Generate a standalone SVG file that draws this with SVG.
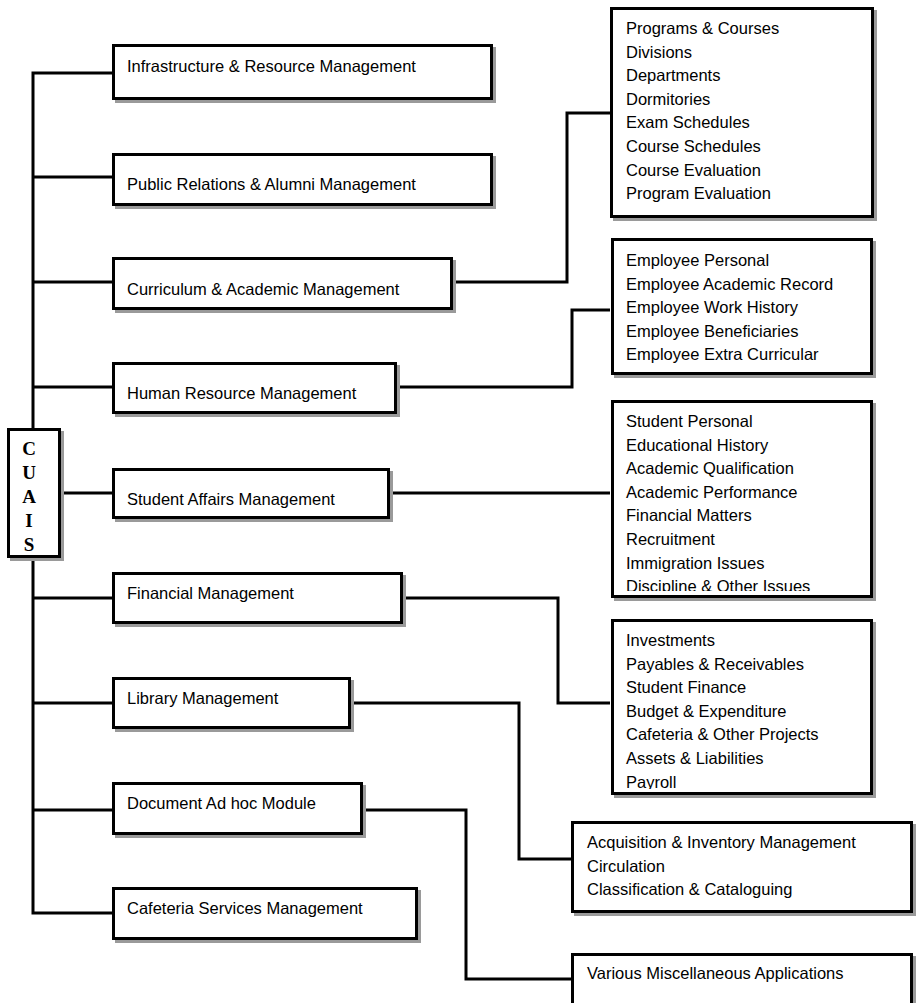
<svg xmlns="http://www.w3.org/2000/svg" width="916" height="1003" viewBox="0 0 916 1003">
<style>
.sh{fill:#9a9a9a;stroke:#9a9a9a;stroke-width:3}
.bx{fill:#fff;stroke:#000;stroke-width:3}
.c{fill:none;stroke:#000;stroke-width:3;stroke-linejoin:miter}
.t{font-family:'Liberation Sans',Arial,Helvetica,sans-serif;font-size:16.5px;fill:#000}
.h{font-family:'Liberation Serif','Times New Roman',serif;font-size:19px;font-weight:bold;fill:#000;text-anchor:middle}
</style>
<defs>
<clipPath id="clipStu"><rect x="612" y="401" width="260" height="190"/></clipPath>
<clipPath id="clipInv"><rect x="612" y="620" width="260" height="169"/></clipPath>
</defs>
<rect x="0" y="0" width="916" height="1003" fill="#fff"/>
<g id="connectors">
<path class="c" d="M112,73 H33 V913 H112"/>
<path class="c" d="M33,177 H112 M33,282 H112 M33,387 H112 M61,493 H112 M33,598 H112 M33,703 H112 M33,810 H112"/>
<path class="c" d="M453,282 H567 V113 H610"/>
<path class="c" d="M397,387 H572 V310 H610"/>
<path class="c" d="M390,493 H610"/>
<path class="c" d="M402,598 H558 V703 H610"/>
<path class="c" d="M350,703 H519 V859 H571"/>
<path class="c" d="M362,810 H466 V979 H571"/>
</g>
<g id="cuais">
<rect class="sh" x="11.5" y="432.5" width="51" height="127"/>
<rect class="bx" x="8.5" y="429.5" width="51" height="127"/>
<text class="h" x="29" y="455">C</text>
<text class="h" x="29" y="479">U</text>
<text class="h" x="29" y="503">A</text>
<text class="h" x="29" y="527">I</text>
<text class="h" x="29" y="551">S</text>
</g>
<g id="infra">
<rect class="sh" x="116.5" y="48.5" width="378" height="53"/>
<rect class="bx" x="113.5" y="45.5" width="378" height="53"/>
<text class="t" x="127" y="72">Infrastructure &amp; Resource Management</text>
</g>
<g id="public">
<rect class="sh" x="116.5" y="157.5" width="378" height="50"/>
<rect class="bx" x="113.5" y="154.5" width="378" height="50"/>
<text class="t" x="127" y="190">Public Relations &amp; Alumni Management</text>
</g>
<g id="curriculum">
<rect class="sh" x="116.5" y="261.5" width="338" height="50"/>
<rect class="bx" x="113.5" y="258.5" width="338" height="50"/>
<text class="t" x="127" y="295">Curriculum &amp; Academic Management</text>
</g>
<g id="hr">
<rect class="sh" x="116.5" y="366.5" width="282" height="49"/>
<rect class="bx" x="113.5" y="363.5" width="282" height="49"/>
<text class="t" x="127" y="399">Human Resource Management</text>
</g>
<g id="student">
<rect class="sh" x="116.5" y="472.5" width="275" height="48"/>
<rect class="bx" x="113.5" y="469.5" width="275" height="48"/>
<text class="t" x="127" y="505">Student Affairs Management</text>
</g>
<g id="financial">
<rect class="sh" x="116.5" y="576.5" width="288" height="49"/>
<rect class="bx" x="113.5" y="573.5" width="288" height="49"/>
<text class="t" x="127" y="599">Financial Management</text>
</g>
<g id="library">
<rect class="sh" x="116.5" y="681.5" width="236" height="49"/>
<rect class="bx" x="113.5" y="678.5" width="236" height="49"/>
<text class="t" x="127" y="704">Library Management</text>
</g>
<g id="document">
<rect class="sh" x="116.5" y="786.5" width="248" height="50"/>
<rect class="bx" x="113.5" y="783.5" width="248" height="50"/>
<text class="t" x="127" y="809">Document Ad hoc Module</text>
</g>
<g id="cafeteria">
<rect class="sh" x="116.5" y="891.5" width="303" height="50"/>
<rect class="bx" x="113.5" y="888.5" width="303" height="50"/>
<text class="t" x="127" y="914">Cafeteria Services Management</text>
</g>
<g id="curriculum-items">
<rect class="sh" x="614.5" y="11.5" width="261" height="208"/>
<rect class="bx" x="611.5" y="8.5" width="261" height="208"/>
<text class="t" x="626" y="34">Programs &amp; Courses</text>
<text class="t" x="626" y="57.6">Divisions</text>
<text class="t" x="626" y="81.2">Departments</text>
<text class="t" x="626" y="104.8">Dormitories</text>
<text class="t" x="626" y="128.4">Exam Schedules</text>
<text class="t" x="626" y="152">Course Schedules</text>
<text class="t" x="626" y="175.6">Course Evaluation</text>
<text class="t" x="626" y="199.2">Program Evaluation</text>
</g>
<g id="hr-items">
<rect class="sh" x="615.5" y="242.5" width="259" height="134"/>
<rect class="bx" x="612.5" y="239.5" width="259" height="134"/>
<text class="t" x="626" y="266">Employee Personal</text>
<text class="t" x="626" y="289.6">Employee Academic Record</text>
<text class="t" x="626" y="313.2">Employee Work History</text>
<text class="t" x="626" y="336.8">Employee Beneficiaries</text>
<text class="t" x="626" y="360.4">Employee Extra Curricular</text>
</g>
<g id="student-items">
<rect class="sh" x="615.5" y="404.5" width="259" height="195"/>
<rect class="bx" x="612.5" y="401.5" width="259" height="195"/>
<g clip-path="url(#clipStu)">
<text class="t" x="626" y="427">Student Personal</text>
<text class="t" x="626" y="450.6">Educational History</text>
<text class="t" x="626" y="474.2">Academic Qualification</text>
<text class="t" x="626" y="497.8">Academic Performance</text>
<text class="t" x="626" y="521.4">Financial Matters</text>
<text class="t" x="626" y="545">Recruitment</text>
<text class="t" x="626" y="568.6">Immigration Issues</text>
<text class="t" x="626" y="592.2">Discipline &amp; Other Issues</text>
</g>
</g>
<g id="financial-items">
<rect class="sh" x="615.5" y="623.5" width="259" height="173"/>
<rect class="bx" x="612.5" y="620.5" width="259" height="173"/>
<g clip-path="url(#clipInv)">
<text class="t" x="626" y="646">Investments</text>
<text class="t" x="626" y="669.6">Payables &amp; Receivables</text>
<text class="t" x="626" y="693.2">Student Finance</text>
<text class="t" x="626" y="716.8">Budget &amp; Expenditure</text>
<text class="t" x="626" y="740.4">Cafeteria &amp; Other Projects</text>
<text class="t" x="626" y="764">Assets &amp; Liabilities</text>
<text class="t" x="626" y="787.6">Payroll</text>
</g>
</g>
<g id="library-items">
<rect class="sh" x="575.5" y="825.5" width="339" height="89"/>
<rect class="bx" x="572.5" y="822.5" width="339" height="89"/>
<text class="t" x="587" y="848">Acquisition &amp; Inventory Management</text>
<text class="t" x="587" y="871.6">Circulation</text>
<text class="t" x="587" y="895.2">Classification &amp; Cataloguing</text>
</g>
<g id="document-items">
<rect class="sh" x="575.5" y="957.5" width="339" height="60"/>
<rect class="bx" x="572.5" y="954.5" width="339" height="60"/>
<text class="t" x="587" y="979">Various Miscellaneous Applications</text>
</g>
</svg>
